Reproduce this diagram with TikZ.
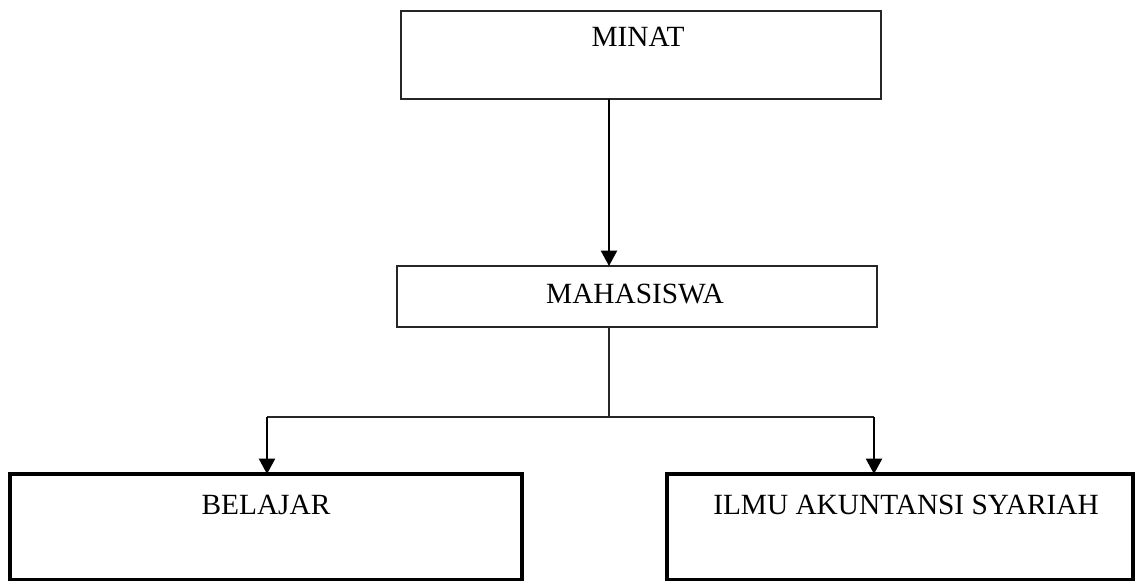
\documentclass[tikz,border=0pt]{standalone}
\usepackage{fontspec}
\setmainfont{Liberation Serif}
\usetikzlibrary{arrows.meta}
\begin{document}
\begin{tikzpicture}[x=0.75pt,y=-0.75pt,
  thinbox/.style={draw=black!85,line width=1.1pt,inner sep=0pt,outer sep=0pt},
  thickbox/.style={draw=black,line width=2.3pt,inner sep=0pt,outer sep=0pt},
  lbl/.style={anchor=base,inner sep=0pt,font=\fontsize{22pt}{26pt}\selectfont},
  arr/.style={draw=black,line width=1.6pt,-{Triangle[width=12pt,length=11.5pt]}},
  conn/.style={draw=black!85,line width=1.1pt}]
\useasboundingbox (0,0) rectangle (1135,581);
% boxes
\node[thinbox,minimum width=360pt,minimum height=66pt] (minat) at (641,55) {};
\node[thinbox,minimum width=360pt,minimum height=45.75pt] (mhs) at (637,296.5) {};
\node[thickbox,minimum width=384pt,minimum height=79.5pt] (bl) at (266,527) {};
\node[thickbox,minimum width=349.5pt,minimum height=79.5pt] (ilmu) at (900,527) {};
% texts
\node[lbl] (tminat) at (638,47) {MINAT};
\node[lbl] (tmhs) at (635,303) {MAHASISWA};
\node[lbl] (tbl) at (266,514) {BELAJAR};
\node[lbl] (tilmu) at (906,514) {ILMU AKUNTANSI SYARIAH};
% junction coordinates
\coordinate (j) at (609,417);
\coordinate (jl) at (267,417);
\coordinate (jr) at (874,417);
% connectors
\draw[arr] (minat.south -| j) -- (mhs.north -| j);
\draw[conn] (mhs.south -| j) -- (j);
\draw[conn] (jl) -- (jr);
\draw[arr] (jl) -- (bl.north -| jl);
\draw[arr] (jr) -- (ilmu.north -| jr);
\end{tikzpicture}
\end{document}
